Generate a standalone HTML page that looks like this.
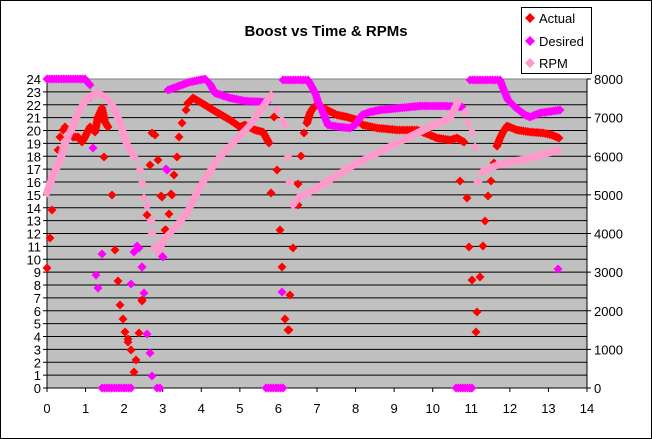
<!DOCTYPE html>
<html><head><meta charset="utf-8"><style>
html,body{margin:0;padding:0;background:#fff}
svg{display:block;font-family:"Liberation Sans",Arial,sans-serif}
</style></head><body>
<svg id="s" width="652" height="439" viewBox="0 0 652 439" xmlns="http://www.w3.org/2000/svg">
<rect x="0.5" y="0.5" width="651" height="438" fill="#fff" stroke="#000"/>
<text x="326" y="36" text-anchor="middle" font-size="15" font-weight="bold">Boost vs Time &amp; RPMs</text>
<rect x="47" y="79" width="540" height="309" fill="#c0c0c0" stroke="#808080"/>
<g id="grid"></g>
<g id="ser"></g>
<rect x="521.5" y="7.5" width="70" height="66" fill="#fff" stroke="#000"/>
<path d="M525 18 l5 -5 l5 5 l-5 5z" fill="#f00"/><text x="539" y="23" font-size="13">Actual</text>
<path d="M525 41 l5 -5 l5 5 l-5 5z" fill="#f0f"/><text x="539" y="46" font-size="13">Desired</text>
<path d="M525 63 l5 -5 l5 5 l-5 5z" fill="#f9c"/><text x="539" y="68" font-size="13">RPM</text>
</svg>
<script>
var g=document.getElementById("grid"),h="";
for(var i=0;i<=24;i++){var y=388-i*309/24;
 if(i>0&&i<24)h+='<line x1="47" x2="587" y1="'+y+'" y2="'+y+'" stroke="#000" stroke-width="1"/>';
 h+='<line x1="43" x2="47" y1="'+y+'" y2="'+y+'" stroke="#000"/>';
 h+='<text x="41" y="'+(y+5)+'" text-anchor="end" font-size="13">'+i+'</text>';}
for(var i=0;i<=8;i++){var y=388-i*309/8;
 h+='<line x1="587" x2="591" y1="'+y+'" y2="'+y+'" stroke="#000"/>';
 h+='<text x="594" y="'+(y+5)+'" font-size="13">'+(i*1000)+'</text>';}
for(var i=0;i<=14;i++){var x=47+i*540/14;
 h+='<line x1="'+x+'" x2="'+x+'" y1="388" y2="392" stroke="#000"/>';
 h+='<text x="'+x+'" y="413" text-anchor="middle" font-size="13">'+i+'</text>';}
h+='<line x1="47" x2="587" y1="388" y2="388" stroke="#000"/><line x1="47" x2="47" y1="79" y2="388" stroke="#000"/><line x1="587" x2="587" y1="79" y2="388" stroke="#000"/>';
g.innerHTML=h;
function dense(p){var o=[];for(var i=0;i<p.length-1;i++){var a=p[i],b=p[i+1],d=Math.hypot(b[0]-a[0],b[1]-a[1]),n=Math.max(1,Math.ceil(d/2.5));for(var k=0;k<n;k++)o.push([a[0]+(b[0]-a[0])*k/n,a[1]+(b[1]-a[1])*k/n]);}o.push(p[p.length-1]);return o;}
var S=document.getElementById("ser"),out="";
function draw(pts,c){pts.forEach(function(p){out+='<path d="M'+(p[0]-4.5)+' '+p[1]+'l4.5 -4.5l4.5 4.5l-4.5 4.5z" fill="'+c+'"/>';});}
var A=[].concat(
 [[47,268],[50,238],[52,210],[55,170],[58,150],[60,137],[63,130],[65,127]],
 dense([[73,137],[78,137],[82,142],[85,137],[90,127],[95,132],[98,117],[102,108],[105,122],[108,127]]),
 [[104,157],[112,195],[115,250],[118,281],[120,305],[123,319],[125,332],[128,342],[128,339],[131,350],[136,360],[134,372],[139,333],[142,301],[142,300],[142,267],[147,215],[152,133],[155,135],[158,160],[150,165],[161,196],[162,197],[165,230],[166,230],[169,214],[171,194],[172,195],[174,175],[177,157],[179,137],[182,123],[186,110],[188,103]],
 dense([[188,103],[193,98],[200,102],[213,110],[230,120],[240,127],[245,125],[255,130],[263,132],[269,143]]),
 [[274,117],[277,170],[271,193],[298,184],[298,205],[280,230],[293,248],[282,267],[290,295],[285,319],[288,330],[289,330],[301,156],[304,133],[307,123]],
 dense([[307,123],[310,113],[313,108],[317,105],[327,110],[337,115],[347,117],[357,120],[363,125],[377,128],[397,130],[417,130],[430,135],[437,138],[450,140],[457,138],[464,142]]),
 [[460,181],[467,198],[469,247],[472,280],[476,332],[477,312],[480,277],[483,246],[485,221],[488,196],[491,181],[494,163],[497,146]],
 dense([[497,146],[500,138],[503,132],[507,126],[517,130],[530,132],[543,133],[552,135],[559,138]])
);
var D=[].concat(
 dense([[47,79],[85,79],[90,85]]),
 [[90,97],[93,148],[102,254],[96,275],[98,288],[131,284],[134,252],[137,246],[139,248],[144,293],[142,267],[147,334],[150,353],[152,376],[157,388],[160,388],[163,257],[160,254],[166,169],[167,170],[282,292]],
 dense([[102,388],[131,388]]),dense([[266,388],[283,388]]),dense([[456,388],[472,388]]),
 dense([[168,90],[190,82],[205,79],[210,84],[215,93],[230,98],[245,101],[267,102]]),
 dense([[283,80],[308,80],[312,87],[316,95],[318,102],[322,110],[328,125],[340,127],[350,128],[355,125],[362,115],[370,112],[380,110],[400,108],[420,106],[445,106],[462,107]]),
 dense([[470,80],[500,80],[503,88],[508,100],[515,107],[525,115],[530,117],[540,113],[560,110]]),
 [[558,269]]
);
var R=[].concat(
 dense([[47,193],[52,178],[60,160],[65,143],[72,128],[78,113],[87,98],[97,93],[107,98],[112,105],[117,115],[123,132],[128,147],[135,158]]),
 [[140,170],[142,183],[144,198],[147,206],[151,221],[152,233],[155,247]],
 dense([[155,247],[158,252],[163,240],[173,230],[187,213],[200,187],[217,160],[233,143],[250,125],[271,95]]),
 [[277,110],[282,120],[285,125],[288,157],[290,182],[293,205]],
 dense([[293,205],[298,198],[317,188],[350,167],[383,150],[417,133],[450,118],[458,102]]),
 [[465,112],[468,123],[472,132],[475,147],[478,182]],
 dense([[482,172],[497,165],[530,158],[558,150]])
);
draw(A,"#f00");draw(D,"#f0f");draw(R,"#f9c");
S.innerHTML=out;
</script>
</body></html>
